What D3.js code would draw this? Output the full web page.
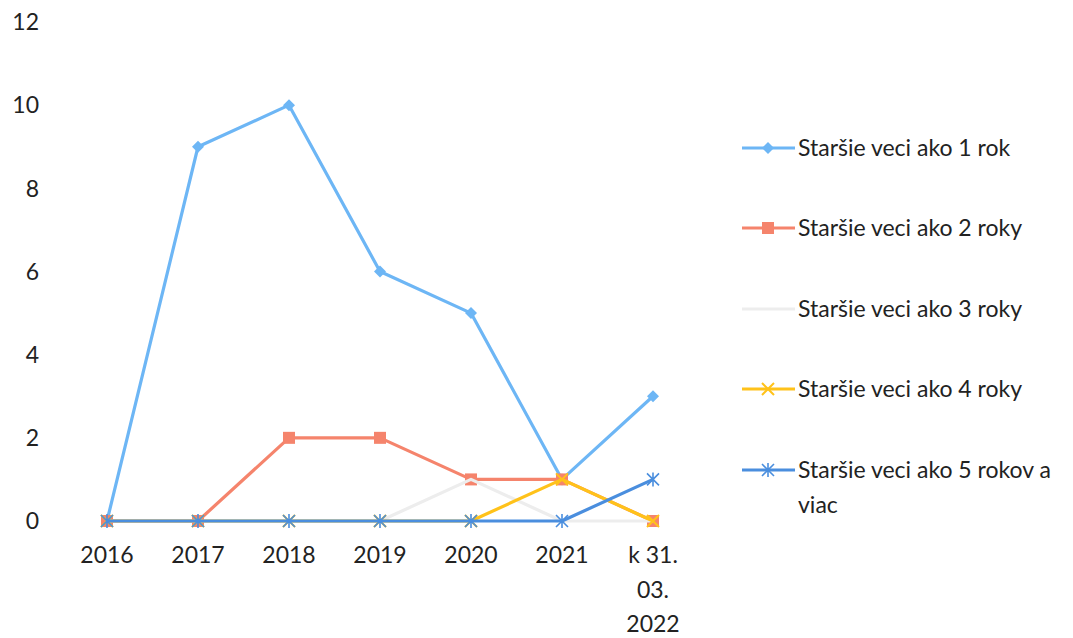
<!DOCTYPE html>
<html><head><meta charset="utf-8">
<script src="https://cdn.jsdelivr.net/npm/d3@7"></script>
<style>body{margin:0;background:#fff}svg{display:block}text{font-family:Lato,"Open Sans",sans-serif;fill:#222}</style>
</head><body><svg id="c" width="1073" height="638"></svg>
<script>
const categories = ["2016","2017","2018","2019","2020","2021","k 31. 03. 2022"];
const categoryLines = [["2016"],["2017"],["2018"],["2019"],["2020"],["2021"],["k 31.","03.","2022"]];
const seriesNames = ["Staršie veci ako 1 rok","Staršie veci ako 2 roky","Staršie veci ako 3 roky","Staršie veci ako 4 roky","Staršie veci ako 5 rokov a viac"];
const s1 = [0,9,10,6,5,1,3];
const s2 = [0,0,2,2,1,1,0];
const s3 = [0,0,0,0,1,0,0];
const s4 = [0,0,0,0,0,1,0];
const s5 = [0,0,0,0,0,0,1];
const yTicks = [0,2,4,6,8,10,12];
const colors = ["#6db6f5","#f5846c","#ededed","#ffc21a","#4a8ede"];
const markers = ["diamond","square","none","x","star"];
const allSeries = [s1,s2,s3,s4,s5];

const svg = d3.select("#c");
const x = d3.scalePoint().domain(categories).range([107,653]);
const y = d3.scaleLinear().domain([0,12]).range([521,22]);

svg.append("g").selectAll("text").data(yTicks).join("text")
  .attr("x",39).attr("y",d=>y(d)).attr("dy","0.36em").attr("text-anchor","end")
  .attr("font-size",23).text(d=>d);

const xl = svg.append("g").selectAll("text").data(categories).join("text")
  .attr("x",d=>x(d)).attr("y",555).attr("text-anchor","middle").attr("font-size",23);
xl.each(function(d,i){
  const t=d3.select(this);
  categoryLines[i].forEach((ln,j)=>t.append("tspan").attr("x",x(d)).attr("dy",j===0?"0.36em":"1.5em").text(ln));
});

function drawMarker(g,type,cx,cy,color){
  if(type==="diamond"){
    g.append("path").attr("d",`M${cx},${cy-6}L${cx+6},${cy}L${cx},${cy+6}L${cx-6},${cy}Z`).attr("fill",color);
  } else if(type==="square"){
    g.append("rect").attr("x",cx-6).attr("y",cy-6).attr("width",12).attr("height",12).attr("fill",color);
  } else if(type==="x"){
    g.append("path").attr("d",`M${cx-6},${cy-6}L${cx+6},${cy+6}M${cx-6},${cy+6}L${cx+6},${cy-6}`).attr("stroke",color).attr("stroke-width",2);
  } else if(type==="star"){
    g.append("path").attr("d",`M${cx-6},${cy-6}L${cx+6},${cy+6}M${cx-6},${cy+6}L${cx+6},${cy-6}M${cx},${cy-7}L${cx},${cy+7}`).attr("stroke",color).attr("stroke-width",1.6);
  }
}

const line = d3.line().x((d,i)=>x(categories[i])).y(d=>y(d));
[0,1,2,3,4].forEach(si=>{
  const g = svg.append("g");
  g.append("path").datum(allSeries[si]).attr("d",line).attr("fill","none")
    .attr("stroke",colors[si]).attr("stroke-width",3.2).attr("stroke-linejoin","round");
  allSeries[si].forEach((v,i)=>drawMarker(g,markers[si],x(categories[i]),y(v),colors[si]));
});

const legY = [148,228,309,389,470];
seriesNames.forEach((n,i)=>{
  const g = svg.append("g");
  g.append("line").attr("x1",742).attr("x2",795).attr("y1",legY[i]).attr("y2",legY[i]).attr("stroke",colors[i]).attr("stroke-width",3.2);
  drawMarker(g,markers[i],768,legY[i],colors[i]);
  const t = g.append("text").attr("x",798).attr("y",legY[i]).attr("dy","0.36em").attr("font-size",23);
  if(i===4){
    t.append("tspan").attr("x",798).text("Staršie veci ako 5 rokov a");
    t.append("tspan").attr("x",798).attr("dy","1.5em").text("viac");
  } else t.text(n);
});
</script></body></html>
